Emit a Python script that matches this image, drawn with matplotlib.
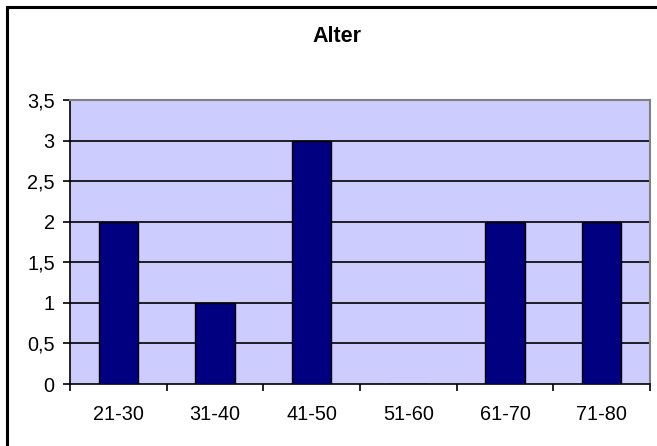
import matplotlib
matplotlib.use("Agg")
import matplotlib.pyplot as plt
import numpy as np
from matplotlib.lines import Line2D

categories = ["21-30", "31-40", "41-50", "51-60", "61-70", "71-80"]
counts = [2, 1, 3, 0, 2, 2]
yticks = [0, 0.5, 1, 1.5, 2, 2.5, 3, 3.5]
ytick_labels = ["0", "0,5", "1", "1,5", "2", "2,5", "3", "3,5"]

plt.rcParams['font.family'] = ['Liberation Sans', 'DejaVu Sans']

W, H = 657, 446
fig = plt.figure(figsize=(W / 100, H / 100), dpi=100)

# outer chart border: only top and left edges are inside the picture
fig.add_artist(Line2D([6.5 / W, 6.5 / W, 1.0], [0.0, 1 - 6.5 / H, 1 - 6.5 / H],
                      transform=fig.transFigure, color="black", linewidth=2.2,
                      solid_joinstyle="miter"))

ax = fig.add_axes([70 / W, (H - 384) / H, 580 / W, 284 / H])
ax.set_facecolor("#ccccff")

x = np.arange(len(categories))
ax.bar(x, counts, width=0.41, color="#000080", edgecolor="black", linewidth=1, zorder=3)

ax.set_xlim(-0.5, len(categories) - 0.5)
ax.set_ylim(0, 3.5)
for y in yticks[1:-1]:
    ax.axhline(y, color="black", linewidth=1.2, zorder=1)

ax.set_yticks(yticks)
ax.set_yticklabels(ytick_labels)
ax.set_xticks(x)
ax.set_xticklabels(categories)
ax.set_xticks(np.arange(len(categories) + 1) - 0.5, minor=True)
ax.tick_params(axis="x", which="major", length=0, pad=15, labelsize=14.3)
ax.tick_params(axis="x", which="minor", length=5, width=1.2, direction="out")
ax.tick_params(axis="y", length=5, width=1.2, direction="out", pad=6, labelsize=14.3)

for s in ["top", "right"]:
    ax.spines[s].set_color("#808080")
    ax.spines[s].set_linewidth(1.5)
for s in ["left", "bottom"]:
    ax.spines[s].set_color("black")
    ax.spines[s].set_linewidth(1.2)

fig.text(337 / W, 1 - 37 / H, "Alter", ha="center", va="center", fontsize=15.5, fontweight="bold")

fig.savefig("out.png", dpi=100)
